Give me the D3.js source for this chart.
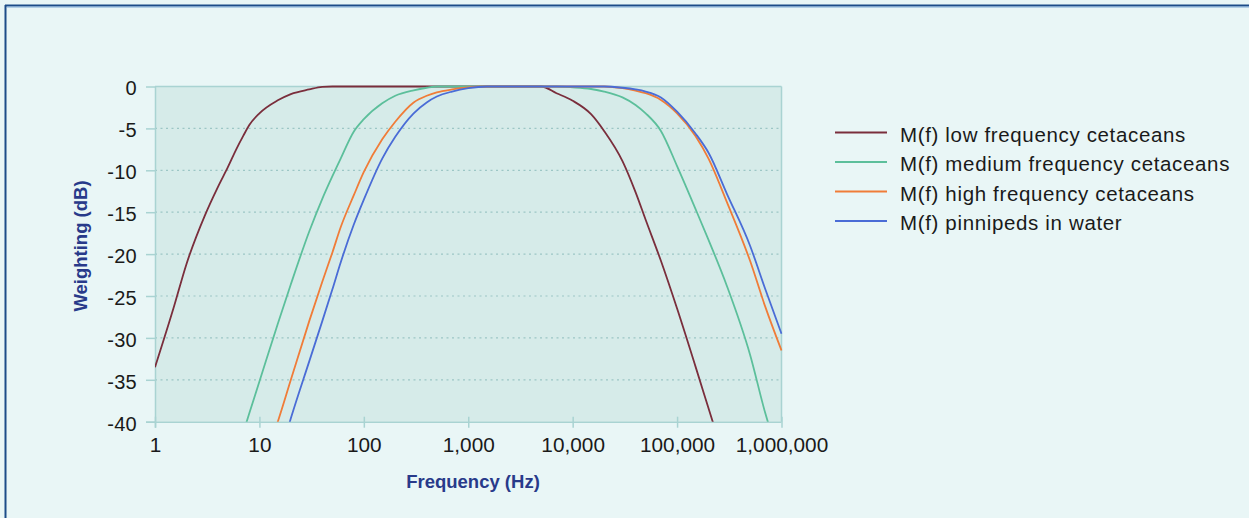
<!DOCTYPE html>
<html>
<head>
<meta charset="utf-8">
<script src="https://cdn.jsdelivr.net/npm/d3@7"></script>
<style>
  html, body { margin: 0; padding: 0; background: #e9f6f6; }
  svg { display: block; font-family: "Liberation Sans", Arial, sans-serif; }
</style>
</head>
<body>
<svg id="chart" width="1249" height="518"></svg>
<script>
// ---- data ----
const frequencies = [1,1.5,2,3,4,5,6,7,8,10,15,20,30,40,50,60,80,100,150,200,300,400,500,700,1000,1500,2000,3000,5000,7000,10000,15000,20000,30000,40000,50000,70000,100000,150000,200000,300000,500000,700000,1000000];

const lowFrequencyCetaceans = [-33.5,-26.5,-21.2,-15.4,-12.0,-9.6,-7.5,-5.9,-4.6,-3.2,-1.65,-0.9,-0.35,-0.05,0,0,0,0,0,0,0,0,0,0,0,0,0,0,0,-0.8,-1.7,-3.3,-5.3,-8.9,-12.6,-15.9,-20.8,-26.5,-33.4,-38.4,-45.4,null,null,null];

const mediumFrequencyCetaceans = [null,null,null,null,null,null,null,-41.3,-39.0,-35.2,-28.3,-23.6,-17.3,-13.4,-10.7,-8.6,-5.4,-3.9,-2.0,-1.1,-0.45,-0.15,0,0,0,0,0,0,0,0,-0.1,-0.3,-0.6,-1.3,-2.2,-3.2,-5.3,-9.5,-14.6,-18.3,-23.8,-32.0,-39.0,-45.0];

const highFrequencyCetaceans = [null,null,null,null,null,null,null,null,null,-46.0,-40.0,-35.0,-28.0,-23.3,-19.8,-16.8,-13.0,-10.2,-6.3,-4.2,-1.9,-1.1,-0.7,-0.35,-0.1,0,0,0,0,0,0,0,0,-0.2,-0.5,-0.8,-1.6,-3.2,-5.9,-8.6,-13.8,-20.8,-26.3,-31.5];

const pinnipedsInWater = [null,null,null,null,null,null,null,null,null,null,-45.0,-39.6,-32.8,-28.0,-24.2,-21.0,-16.5,-13.5,-8.6,-6.0,-3.2,-1.9,-1.2,-0.6,-0.2,0,0,0,0,0,0,0,0,-0.15,-0.35,-0.6,-1.3,-3.0,-5.6,-7.9,-12.8,-19.0,-24.2,-29.5];

const seriesNames = ["M(f) low frequency cetaceans","M(f) medium frequency cetaceans","M(f) high frequency cetaceans","M(f) pinnipeds in water"];
const seriesValues = [lowFrequencyCetaceans, mediumFrequencyCetaceans, highFrequencyCetaceans, pinnipedsInWater];
const seriesColors = ["#7a2e3c","#5cbf9b","#f07c38","#4a6cd6"];

const xTickValues = [1,10,100,1000,10000,100000,1000000];
const xTickLabels = ["1","10","100","1,000","10,000","100,000","1,000,000"];
const yTickValues = [0,-5,-10,-15,-20,-25,-30,-35,-40];
const yTickLabels = ["0","-5","-10","-15","-20","-25","-30","-35","-40"];

const xTitle = "Frequency (Hz)";
const yTitle = "Weighting (dB)";

// ---- layout ----
const svg = d3.select("#chart");
const L = 155, R = 781.5, T = 86.5, B = 421.7;
const axisColor = "#a9d3d2";
const gridColor = "#9cc6c5";
const titleColor = "#283a8a";
const labelColor = "#1a1a1a";

const x = d3.scaleLog().domain([1, 1e6]).range([L, R]);
const y = d3.scaleLinear().domain([-40, 0]).range([B, T]);

// page frame (top + left border)
svg.append("rect").attr("x",0).attr("y",0).attr("width",1249).attr("height",518).attr("fill","#e9f6f6");
svg.append("line").attr("x1",5).attr("x2",1249).attr("y1",5.5).attr("y2",5.5).attr("stroke","#1d4c88").attr("stroke-width",2);
svg.append("line").attr("x1",5.5).attr("x2",5.5).attr("y1",5).attr("y2",518).attr("stroke","#1d4c88").attr("stroke-width",2);
svg.append("line").attr("x1",7).attr("x2",1249).attr("y1",7).attr("y2",7).attr("stroke","#7fa9d6").attr("stroke-width",1);

// plot background
svg.append("rect").attr("x",L).attr("y",T).attr("width",R-L).attr("height",B-T).attr("fill","#d6ebe9");

// gridlines
svg.append("g").selectAll("line").data(yTickValues.filter(v => v !== 0 && v !== -40)).join("line")
  .attr("x1", L).attr("x2", R).attr("y1", d => y(d)).attr("y2", d => y(d))
  .attr("stroke", gridColor).attr("stroke-width", 1.2).attr("stroke-dasharray", "2,3.5");

// plot top and right border
svg.append("line").attr("x1",L).attr("x2",R).attr("y1",T).attr("y2",T).attr("stroke",axisColor).attr("stroke-width",1.5);
svg.append("line").attr("x1",R).attr("x2",R).attr("y1",T).attr("y2",B).attr("stroke",axisColor).attr("stroke-width",1.5);

// y axis
const yAxis = d3.axisLeft(y).tickValues(yTickValues)
  .tickFormat((d,i) => yTickLabels[yTickValues.indexOf(d)]).tickSize(9).tickPadding(9);
const gy = svg.append("g").attr("transform", `translate(${L},0)`).call(yAxis);
gy.select(".domain").attr("stroke", axisColor).attr("stroke-width",1.5).attr("d", `M0.5,${T}V${B+6}`);
gy.selectAll(".tick line").attr("stroke", axisColor).attr("stroke-width",1.5);
gy.selectAll(".tick text").attr("fill", labelColor).attr("font-size", 20).attr("dy","0.42em")
  .attr("letter-spacing", 0.3)
  .attr("font-family", "Liberation Sans, Arial, sans-serif");

// x axis
const xAxis = d3.axisBottom(x).tickValues(xTickValues)
  .tickFormat(d => xTickLabels[xTickValues.indexOf(d)]).tickSize(6).tickPadding(10);
const gx = svg.append("g").attr("transform", `translate(0,${B})`).call(xAxis);
gx.select(".domain").attr("stroke", axisColor).attr("stroke-width",1.5).attr("d", `M${L-9},0.5H${R}`);
gx.selectAll(".tick line").attr("stroke", axisColor).attr("stroke-width",1.5).attr("y1", -5);
gx.selectAll(".tick text").attr("fill", labelColor).attr("font-size", 20.8)
  .attr("font-family", "Liberation Sans, Arial, sans-serif");

// curves
svg.append("clipPath").attr("id","plotclip").append("rect")
  .attr("x",L).attr("y",T-2).attr("width",R-L+1).attr("height",B-T+2);
const line = d3.line()
  .defined(d => d.v !== null)
  .x(d => x(d.f)).y(d => y(d.v))
  .curve(d3.curveMonotoneX);
const curves = svg.append("g").attr("clip-path","url(#plotclip)");
seriesValues.forEach((vals, i) => {
  const pts = frequencies.map((f, j) => ({f, v: vals[j]}));
  curves.append("path").datum(pts)
    .attr("fill","none").attr("stroke", seriesColors[i]).attr("stroke-width", 1.8)
    .attr("stroke-linejoin","round").attr("d", line);
});

// axis titles
svg.append("text").attr("x", 473).attr("y", 488).attr("text-anchor","middle")
  .attr("font-size", 18.5).attr("font-weight","bold").attr("fill", titleColor).text(xTitle);
svg.append("text").attr("transform","translate(86.5,246) rotate(-90)").attr("text-anchor","middle")
  .attr("font-size", 18.5).attr("font-weight","bold").attr("fill", titleColor).text(yTitle);

// legend
const legend = svg.append("g");
seriesNames.forEach((name, i) => {
  const yy = 132.5 + i * 29.5;
  legend.append("line").attr("x1", 835).attr("x2", 887).attr("y1", yy).attr("y2", yy)
    .attr("stroke", seriesColors[i]).attr("stroke-width", 2);
  legend.append("text").attr("x", 900).attr("y", yy + 9.3)
    .attr("font-size", 20.5).attr("letter-spacing", 0.65).attr("fill", labelColor).text(name);
});
</script>
</body>
</html>
